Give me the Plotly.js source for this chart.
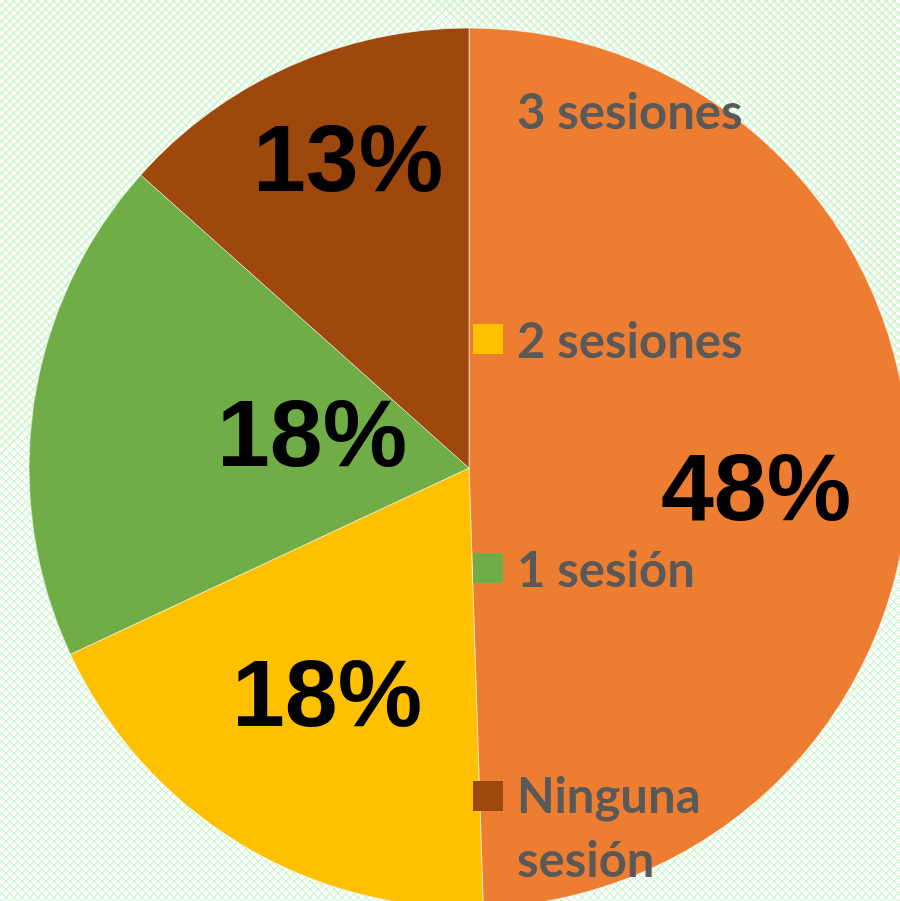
<!DOCTYPE html>
<html>
<head>
<meta charset="utf-8">
<script src="https://cdn.plot.ly/plotly-3.0.1.min.js"></script>
<style>
html, body { margin: 0; padding: 0; overflow: hidden; width: 900px; height: 901px; }
body {
  background-color: #ffffff;
  background-image:
    repeating-linear-gradient(45deg, rgba(200,245,200,0.75) 0px, rgba(200,245,200,0.75) 1.6px, transparent 1.6px, transparent 5.66px),
    repeating-linear-gradient(-45deg, rgba(200,245,200,0.75) 0px, rgba(200,245,200,0.75) 1.6px, transparent 1.6px, transparent 5.66px);
}
#chart { width: 940px; height: 940px; }
</style>
</head>
<body>
<div id="chart"></div>
<script>
// Data
var categories = ["3 sesiones", "2 sesiones", "1 sesión", "Ninguna sesión"];
var legendLabels = ["3 sesiones", "2 sesiones", "1 sesión", "Ninguna<br>sesión"];
var values = [48, 18, 18, 13];
var colors = ["#ED7D31", "#FFC000", "#70AD47", "#9E480E"];

var W = 940, H = 940;
function px(x) { return x / W; }
function py(y) { return 1 - y / H; }

var trace = {
  type: "pie",
  labels: categories,
  values: values,
  sort: false,
  direction: "clockwise",
  rotation: 0,
  marker: { colors: colors, line: { color: "rgba(255,255,255,0.55)", width: 1 } },
  textinfo: "none",
  textposition: "none",
  hoverinfo: "label+value",
  showlegend: false,
  domain: { x: [px(29), px(909)], y: [py(908), py(28)] }
};

// Data-label placement (pixel centres, Excel-style best fit)
var labelPos = [[756, 487], [327, 693], [312, 433], [348, 158]];
var annotations = [];
var shapes = [];
for (var i = 0; i < values.length; i++) {
  annotations.push({
    xref: "paper", yref: "paper",
    x: px(labelPos[i][0]), y: py(labelPos[i][1]),
    xanchor: "center", yanchor: "middle",
    text: values[i] + "%",
    showarrow: false,
    font: { family: "Liberation Sans, Arial, sans-serif", size: 95, color: "#000000", weight: "bold" }
  });
}

// Manual legend (Excel-style, overlaid on the right)
var legendY = [110, 339, 568, 826];
for (var j = 0; j < categories.length; j++) {
  annotations.push({
    xref: "paper", yref: "paper",
    x: px(515), y: py(legendY[j]),
    xanchor: "left", yanchor: "middle",
    text: legendLabels[j],
    showarrow: false,
    align: "left",
    font: { family: "Lato, 'Open Sans', sans-serif", size: 49, color: "#595959", weight: "bold" }
  });
  var cy = (j === 3) ? 796 : legendY[j];
  shapes.push({
    type: "rect", xref: "paper", yref: "paper",
    x0: px(473), x1: px(503), y0: py(cy - 15), y1: py(cy + 15),
    fillcolor: colors[j], line: { width: 0 }
  });
}

var layout = {
  width: W, height: H,
  margin: { l: 0, r: 0, t: 0, b: 0 },
  paper_bgcolor: "rgba(0,0,0,0)",
  plot_bgcolor: "rgba(0,0,0,0)",
  showlegend: false,
  annotations: annotations,
  shapes: shapes
};

Plotly.newPlot("chart", [trace], layout, { displayModeBar: false, staticPlot: true });
</script>
</body>
</html>
